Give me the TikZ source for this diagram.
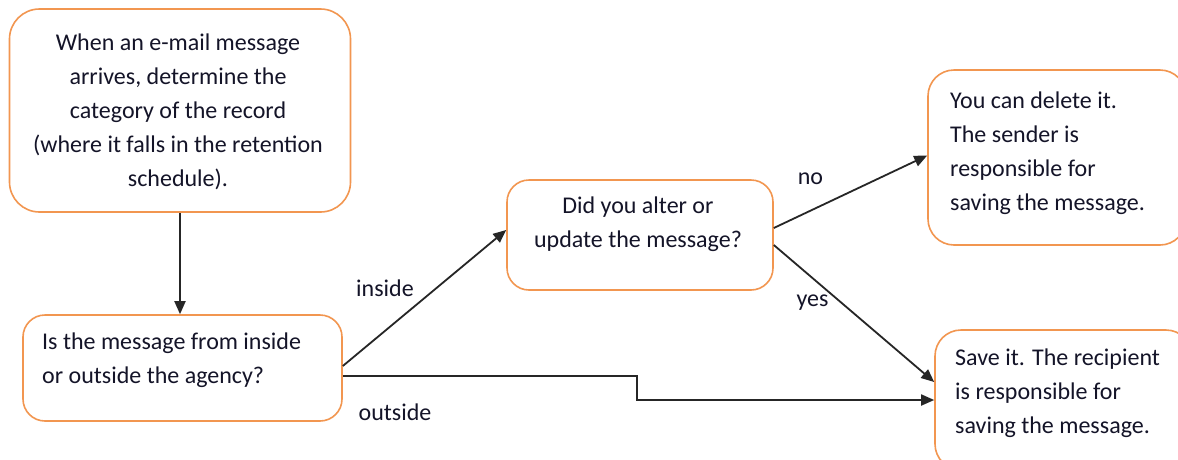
\documentclass[tikz,border=0pt]{standalone}
\usepackage{fontspec}
\setmainfont{Carlito}
\usetikzlibrary{arrows.meta}
\definecolor{boxorange}{RGB}{242,150,80}
\definecolor{txtcol}{RGB}{20,20,40}
\begin{document}
\begin{tikzpicture}[x=1pt,y=-1pt,
  box/.style={draw=boxorange, line width=1.6pt, rounded corners=22pt, fill=white, inner sep=0pt},
  txt/.style={font=\fontsize{24}{34}\selectfont, inner sep=0pt, text=txtcol},
  lbl/.style={font=\fontsize{24}{28}\selectfont, inner sep=0pt, text=txtcol, anchor=base},
  conn/.style={line width=1.8pt, draw=black!85, -{Triangle[length=13pt,width=11pt]}}]
\clip (0,0) rectangle (1178,459);
\fill[white] (0,0) rectangle (1178,459);
% boxes
\node[box, minimum width=341pt, minimum height=203pt, rounded corners=30pt] (b1) at (180,110.5) {};
\node[box, minimum width=319pt, minimum height=106pt] (b2) at (182.5,368) {};
\node[box, minimum width=266pt, minimum height=110pt] (b3) at (640,235) {};
\node[box, minimum width=258pt, minimum height=175pt, rounded corners=26pt] (b4) at (1057,157.5) {};
\node[box, minimum width=257pt, minimum height=140pt, rounded corners=26pt] (b5) at (1063.5,400) {};
% texts
\node[txt, align=center] (t1) at (178,111.5) {When an e-mail message\\arrives, determine the\\category of the record\\(where it falls in the retention\\schedule).};
\node[txt, align=left, anchor=west] (t2) at (42,360) {Is the message from inside\\or outside the agency?};
\node[txt, align=center] (t3) at (638,224.5) {Did you alter or\\update the message?};
\node[txt, align=left, anchor=west] (t4) at (950,153) {You can delete it.\\The sender is\\responsible for\\saving the message.};
\node[txt, align=left, anchor=west] (t5) at (955,393.5) {Save it. The recipient\\is responsible for\\saving the message.};
% connectors
\coordinate (stepc) at (637,390);
\draw[conn] (b1.south) -- (b1.south |- b2.north);
\draw[conn] ([yshift=2pt]b2.east) -- ([yshift=5pt]b3.west);
\draw[conn] ([yshift=-8pt]b2.east) -| (stepc) |- (b5.west);
\draw[conn] ([yshift=7pt]b3.east) -- ([yshift=2pt]b4.west);
\draw[conn] ([yshift=-10pt]b3.east) -- ([yshift=18pt]b5.west);
% labels
\node[lbl] (linside) at (385,296) {inside};
\node[lbl] (loutside) at (395,420) {outside};
\node[lbl] (lno) at (810.5,184) {no};
\node[lbl] (lyes) at (812.5,306) {yes};
\end{tikzpicture}
\end{document}
